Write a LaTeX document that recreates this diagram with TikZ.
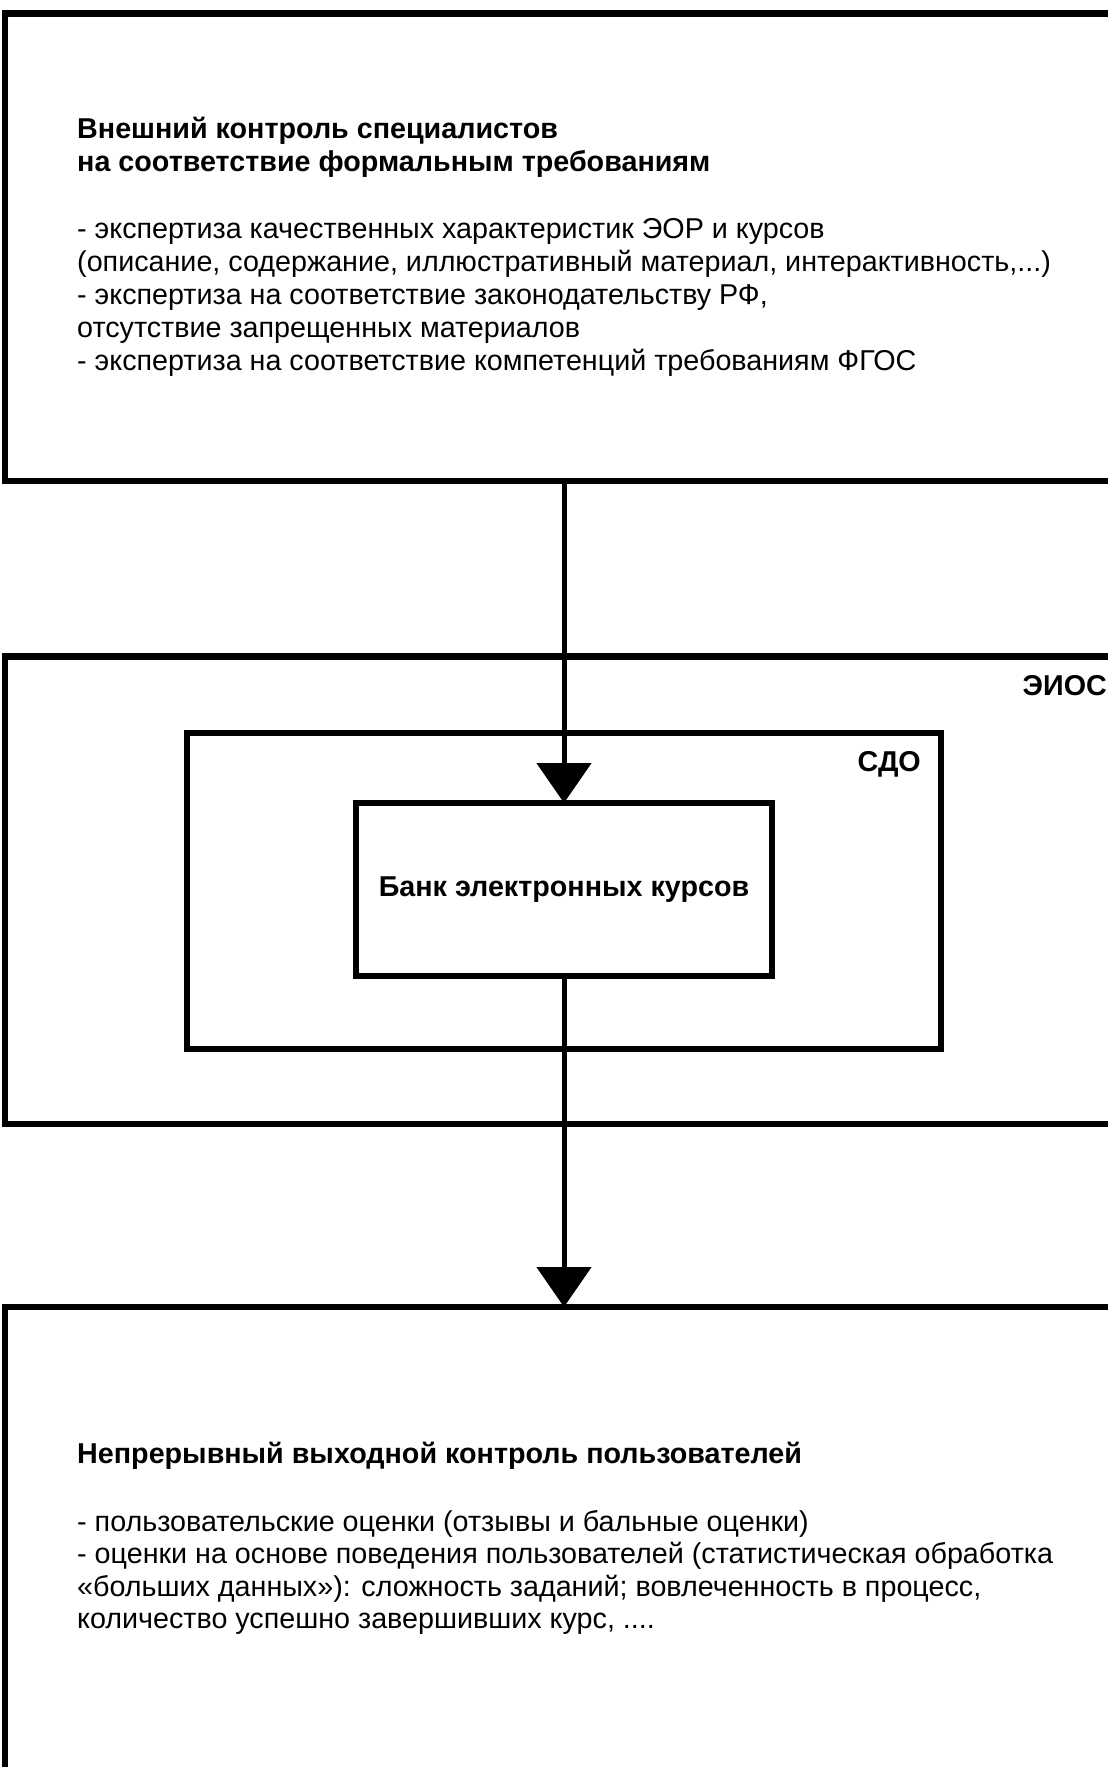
\documentclass[tikz,border=0pt]{standalone}
\usepackage{fontspec}
\setmainfont{Liberation Sans}
\usetikzlibrary{arrows.meta}
\begin{document}
\begin{tikzpicture}[x=1pt,y=-1pt,
  frame/.style={draw, line width=6.5pt, inner sep=0pt, outer sep=0pt, anchor=north west},
  conn/.style={line width=5pt, -{Triangle[length=40pt,width=54pt]}},
  txt/.style={anchor=base west, inner sep=0pt, font=\fontsize{28.7}{33}\selectfont},
  btxt/.style={anchor=base west, inner sep=0pt, font=\fontsize{28.7}{33}\selectfont\bfseries},
]
\useasboundingbox (0,0) rectangle (1108,1767);
\clip (0,0) rectangle (1108,1767);

% frames
\node[frame, minimum width=1200pt, minimum height=467.5pt] (ext) at (5,13.5) {};
\node[frame, minimum width=1200pt, minimum height=467.5pt] (eios) at (5,656.5) {};
\node[frame, minimum width=754pt, minimum height=316pt] (sdo) at (187,733) {};
\node[frame, minimum width=416pt, minimum height=173pt] (bank) at (356,803) {};
\node[frame, minimum width=1200pt, minimum height=600pt] (out) at (5,1307) {};

% connectors
\draw[conn] (bank.north |- ext.south) -- (bank.north);
\draw[conn] (bank.south) -- (bank.south |- out.north);

% labels
\node[btxt, anchor=base east] (eioslbl) at (1107,695) {ЭИОС};
\node[btxt, anchor=base east] (sdolbl) at (921,771) {СДО};
\node[btxt, anchor=center] (banklbl) at (bank.center) {Банк электронных курсов};

% top box text
\node[btxt] (a1) at (77,138) {Внешний контроль специалистов};
\node[btxt] (a2) at (77,171) {на соответствие формальным требованиям};
\node[txt] (a3) at (77,238) {- экспертиза качественных характеристик ЭОР и курсов};
\node[txt] (a4) at (77,271) {(описание, содержание, иллюстративный материал, интерактивность,...)};
\node[txt] (a5) at (77,304) {- экспертиза на соответствие законодательству РФ,};
\node[txt] (a6) at (77,337) {отсутствие запрещенных материалов};
\node[txt] (a7) at (77,370) {- экспертиза на соответствие компетенций требованиям ФГОС};

% bottom box text
\node[btxt] (b1) at (77,1463) {Непрерывный выходной контроль пользователей};
\node[txt] (b2) at (77,1531) {- пользовательские оценки (отзывы и бальные оценки)};
\node[txt] (b3) at (77,1563.5) {- оценки на основе поведения пользователей (статистическая обработка};
\node[txt] (b4) at (77,1596) {«больших данных»): сложность заданий; вовлеченность в процесс,};
\node[txt] (b5) at (77,1628.5) {количество успешно завершивших курс, ....};
\end{tikzpicture}
\end{document}
